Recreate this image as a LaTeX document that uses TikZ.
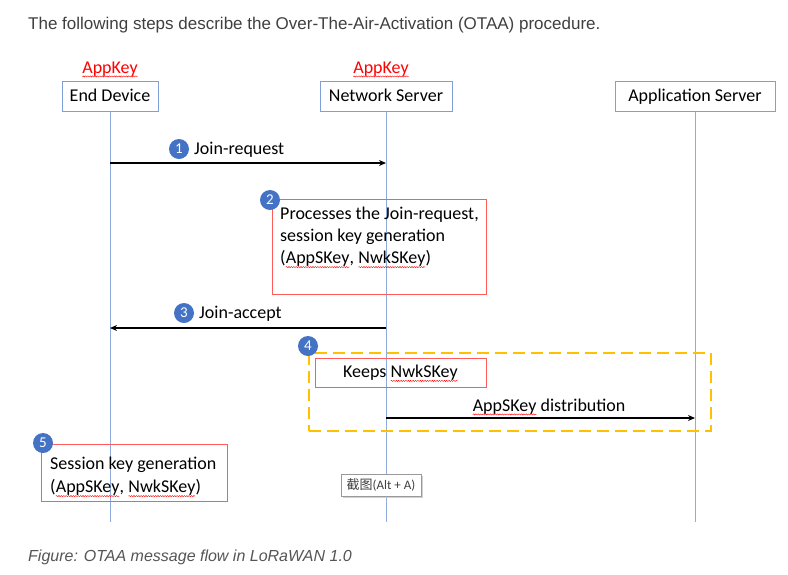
\documentclass[tikz,border=0pt]{standalone}
\usepackage{fontspec}
\setmainfont{Carlito}
\newfontfamily\webfont{Liberation Sans}
\newfontfamily\cjkfont{Noto Sans CJK SC}
\usetikzlibrary{arrows.meta,decorations.pathmorphing}
\definecolor{lifeblue}{HTML}{8FAADC}
\definecolor{boxblue}{HTML}{7F9FD6}
\definecolor{numblue}{HTML}{4472C4}
\definecolor{redbox}{HTML}{FF5B5B}
\definecolor{orng}{HTML}{FFC000}
\definecolor{txtgray}{HTML}{404040}
\definecolor{capgray}{HTML}{555555}
\newcommand\sq[1]{\tikz[baseline=(w.base)]{\node[draw=none,fill=none,inner sep=0pt,outer sep=0pt,minimum width=0pt,minimum height=0pt,text height=,text depth=,anchor=base](w){#1};\draw[red,line width=0.4pt,solid,decorate,decoration={snake,amplitude=0.6pt,segment length=2.4pt}]([yshift=-3.4pt]w.base west)--([yshift=-3.4pt]w.base east);}}
\tikzset{
  actor/.style={draw=boxblue,line width=1pt,minimum height=30pt,inner sep=0pt,text height=14pt,text depth=4pt,font=\fontsize{18}{21}\selectfont},
  life/.style={draw=lifeblue,line width=1pt},
  msg/.style={draw=black,line width=1.5pt,-{Stealth[length=7pt,width=6pt]}},
  num/.style={circle,fill=numblue,minimum size=20pt,inner sep=0pt,text=white,font=\fontsize{15}{15}\selectfont},
  lbl/.style={inner sep=0pt,text height=14pt,text depth=4pt,font=\fontsize{18}{21}\selectfont},
  mlbl/.style={inner sep=0pt,anchor=north west,align=left},
  redrect/.style={draw=redbox,line width=1pt,inner sep=0pt},
  keylbl/.style={inner sep=0pt,text height=14pt,text depth=4pt,text=red,font=\fontsize{18}{21}\selectfont},
}
\begin{document}
\begin{tikzpicture}[x=1pt,y=-1pt]
\useasboundingbox[fill=white] (0,0) rectangle (788,574);
% title
\node[inner sep=0pt,anchor=west,text=txtgray,font=\webfont\fontsize{17}{20}\selectfont] (title) at (28,25) {The following steps describe the Over-The-Air-Activation (OTAA) procedure.};
% actors
\node[actor,minimum width=96pt] (ed) at (110,96) {End Device};
\node[actor,minimum width=132pt] (ns) at (386,96) {Network Server};
\node[actor,minimum width=160pt] (as) at (695,96) {Application Server};
\node[keylbl] (k1) at (110,68) {\sq{AppKey}};
\node[keylbl] (k2) at (381,68) {\sq{AppKey}};
% lifelines
\coordinate (edE) at (110,522);
\coordinate (nsE) at (386,522);
\coordinate (asE) at (695,522);
\draw[life] (ed.south) -- (edE);
\draw[life] (ns.south) -- (nsE);
\draw[life] (as.south) -- (asE);
% step 1
\coordinate (ed1) at (110,163);
\coordinate (ns1) at (386,163);
\draw[msg] (ed1) -- (ns1);
\node[num] (n1) at (179,149) {1};
\node[lbl,anchor=west] (l1) at (194,149) {Join-request};
% step 2
\node[redrect,minimum width=214pt,minimum height=95pt] (b2) at (379,246.5) {};
\node[mlbl,font=\fontsize{18}{22}\selectfont] (t2) at (280,207) {Processes the Join-request,\\session key generation\\(\sq{AppSKey}, \sq{NwkSKey})};
\node[num] (n2) at (270,200) {2};
% step 3
\coordinate (ns3) at (386,328);
\coordinate (ed3) at (110,328);
\draw[msg] (ns3) -- (ed3);
\node[num] (n3) at (184,313) {3};
\node[lbl,anchor=west] (l3) at (199,313) {Join-accept};
% step 4
\node[draw=orng,line width=2pt,dash pattern=on 12pt off 6pt,minimum width=402pt,minimum height=78pt,inner sep=0pt] (grp) at (510,392) {};
\node[num] (n4) at (308,346) {4};
\node[redrect,minimum width=171pt,minimum height=29pt,text height=14pt,text depth=4pt,font=\fontsize{18}{21}\selectfont] (b4) at (400.5,372.5) {Keeps \sq{NwkSKey}};
\coordinate (ns4) at (386,418);
\coordinate (as4) at (695,418);
\draw[msg] (ns4) -- (as4);
\node[lbl] (l4) at (549,406) {\sq{AppSKey} distribution};
% step 5
\node[redrect,minimum width=186pt,minimum height=57pt] (b5) at (134,472.5) {};
\node[mlbl,font=\fontsize{18}{23}\selectfont] (t5) at (50,457) {Session key generation\\(\sq{AppSKey}, \sq{NwkSKey})};
\node[num] (n5) at (43,443) {5};
% tooltip
\fill[black!18] (343,476) rectangle (423,498);
\node[draw=black!40,fill=white,line width=0.8pt,minimum width=80pt,minimum height=22pt,inner sep=0pt,text=black!75,font=\fontsize{13}{15}\selectfont] (tip) at (381,485) {{\cjkfont 截图}(Alt + A)};
% caption
\node[inner sep=0pt,anchor=west,text=capgray,font=\webfont\itshape\fontsize{16}{19}\selectfont] (cap) at (28,557) {Figure: OTAA message flow in LoRaWAN 1.0};
\end{tikzpicture}
\end{document}
